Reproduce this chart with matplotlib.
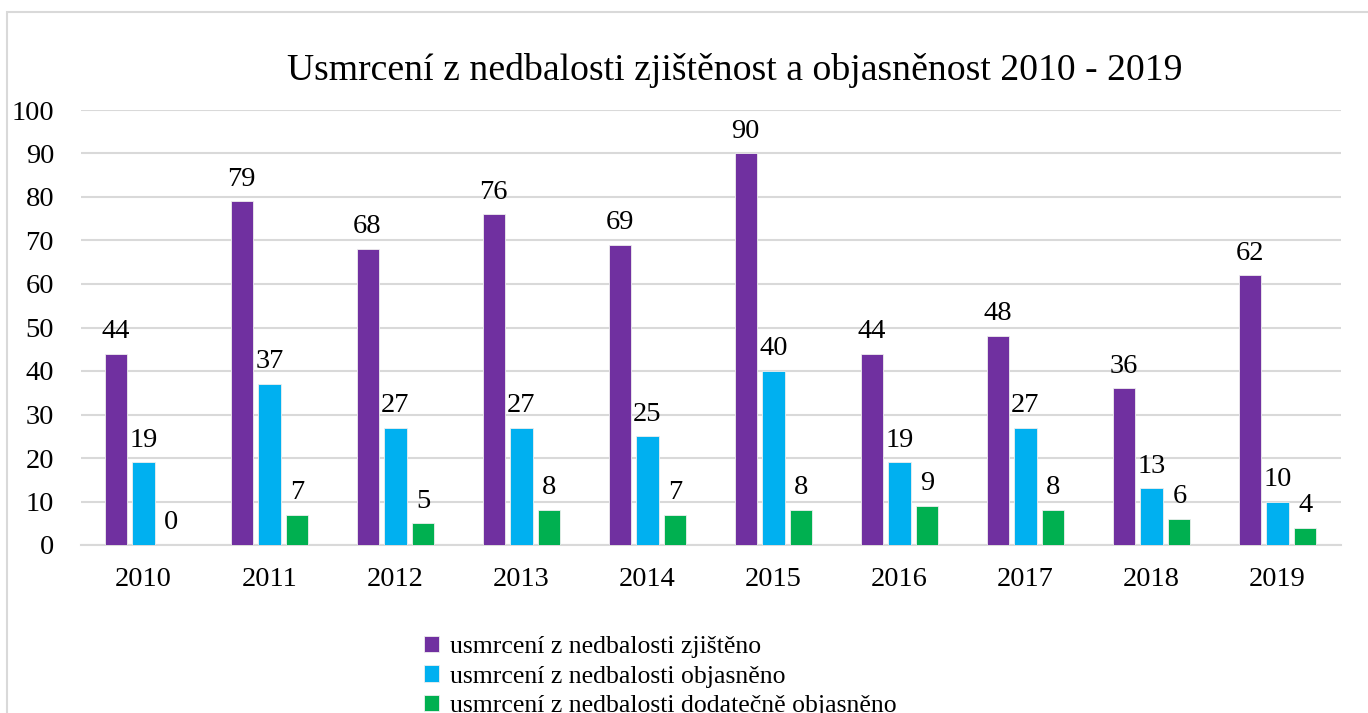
import numpy as np
import matplotlib
matplotlib.use("Agg")
import matplotlib.pyplot as plt
from matplotlib.patches import Rectangle

years = ["2010", "2011", "2012", "2013", "2014", "2015", "2016", "2017", "2018", "2019"]
zjisteno = [44, 79, 68, 76, 69, 90, 44, 48, 36, 62]
objasneno = [19, 37, 27, 27, 25, 40, 19, 27, 13, 10]
dodatecne = [0, 7, 5, 8, 7, 8, 9, 8, 6, 4]
series_names = ["usmrcení z nedbalosti zjištěno",
                "usmrcení z nedbalosti objasněno",
                "usmrcení z nedbalosti dodatečně objasněno"]
colors = ["#7030A0", "#00B0F0", "#00B050"]

plt.rcParams["font.family"] = ["Liberation Serif", "DejaVu Serif"]

fig = plt.figure(figsize=(13.68, 7.13), dpi=100)
ax = fig.add_axes([80.5 / 1368, 1 - 545 / 713, 1260 / 1368, 435 / 713])

# chart frame (cut off at right and bottom like the source)
fig.patches.append(Rectangle((7 / 1368, -0.1), 1.2, 1 - 12 / 713 + 0.1,
                             transform=fig.transFigure, fill=False,
                             edgecolor="#D9D9D9", linewidth=1.5))

ind = np.arange(len(years))
width, step = 0.175, 0.222
for i, (vals, name, c) in enumerate(zip([zjisteno, objasneno, dodatecne], series_names, colors)):
    pos = ind + (i - 1) * step
    ax.bar(pos, vals, width, color=c, edgecolor="#EEEEEE", linewidth=0.6, label=name, zorder=3)
    for x, v in zip(pos, vals):
        ax.annotate(str(v), (x, v), xytext=(0, 7), textcoords="offset points",
                    ha="center", va="bottom", fontsize=20.5)

ax.set_xlim(-0.5, len(years) - 0.5)
ax.set_ylim(0, 100)
ax.set_yticks(range(0, 101, 10))
ax.set_xticks(ind)
ax.set_xticklabels(years)
ax.tick_params(axis="both", length=0, labelsize=20.5)
ax.tick_params(axis="y", pad=19)
ax.tick_params(axis="x", pad=16)
ax.grid(axis="y", color="#D9D9D9", linewidth=1.5, zorder=0)
for s in ["top", "right", "left"]:
    ax.spines[s].set_visible(False)
ax.spines["bottom"].set_color("#D9D9D9")
ax.spines["bottom"].set_linewidth(1.5)

fig.text(735 / 1368, 1 - 70 / 713, "Usmrcení z nedbalosti zjištěnost a objasněnost 2010 - 2019",
         ha="center", va="center", fontsize=27.2)

fig.legend(loc="upper left", bbox_to_anchor=(424 / 1368, 1 - 636 / 713), ncol=1,
           frameon=False, fontsize=18.5, handlelength=0.6, handleheight=0.6,
           handletextpad=0.4, labelspacing=0.28, borderpad=0, borderaxespad=0)

fig.savefig("out.png", dpi=100)
